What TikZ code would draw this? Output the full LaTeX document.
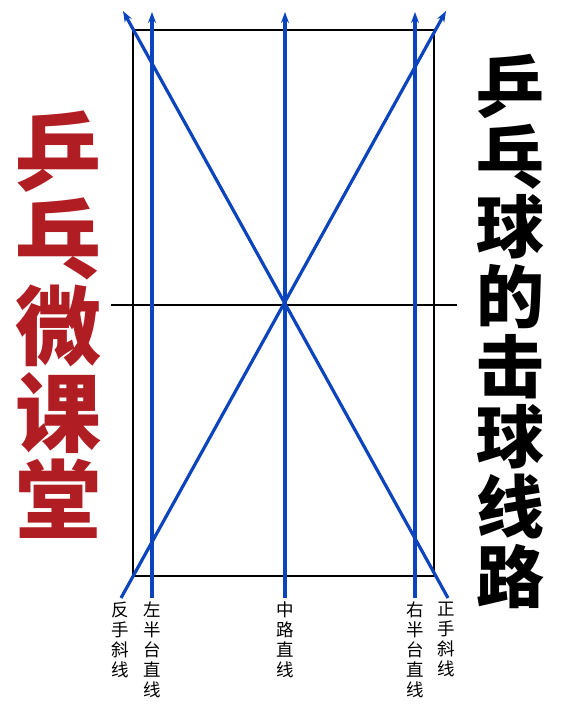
\documentclass[tikz,border=0pt]{standalone}
\usepackage{fontspec}
\newfontfamily\cjk{Noto Sans CJK SC}
\usetikzlibrary{arrows.meta}
\definecolor{lineblue}{RGB}{12,68,190}
\definecolor{titlered}{RGB}{176,30,35}
\tikzset{
  court/.style={draw=black, line width=2.2pt},
  shot/.style={draw=lineblue, line width=3.2pt, -{Stealth[length=11pt,width=8pt]}},
  lbl/.style={anchor=north, align=center, inner sep=0pt, font=\cjk\fontsize{17.5}{20}\selectfont},
  title/.style={align=center, inner sep=0pt}
}
\begin{document}
\begin{tikzpicture}[x=1pt,y=-1pt]
\useasboundingbox (0,0) rectangle (567,728);
% court
\node[court, minimum width=301pt, minimum height=546pt, inner sep=0pt] (table) at (283.5,303) {};
\coordinate (netL) at (111,305);
\coordinate (netR) at (457,305);
\draw[court] (netL) -- (netR);
% shot lines
\coordinate (bFL) at (121,598); \coordinate (tFL) at (446,11);
\coordinate (bFR) at (448,598); \coordinate (tFR) at (123,11);
\coordinate (bL) at (152,598);  \coordinate (tL) at (152,12);
\coordinate (bM) at (285,598);  \coordinate (tM) at (285,12);
\coordinate (bR) at (415,598);  \coordinate (tR) at (415,12);
\draw[shot] (bFL) -- (tFL);
\draw[shot] (bFR) -- (tFR);
\draw[shot] (bL) -- (tL);
\draw[shot] (bM) -- (tM);
\draw[shot] (bR) -- (tR);
% labels
\node[lbl] (l1) at (120,602) {反\\手\\斜\\线};
\node[lbl] (l2) at (152,602) {左\\半\\台\\直\\线};
\node[lbl] (l3) at (285,602) {中\\路\\直\\线};
\node[lbl] (l4) at (415,602) {右\\半\\台\\直\\线};
\node[lbl] (l5) at (446,602) {正\\手\\斜\\线};
% titles
\node[title, text=titlered, font=\cjk\bfseries\fontsize{86}{87}\selectfont] (tleft) at (59,325) {乒\\乓\\微\\课\\堂};
\node[title, text=black, font=\cjk\bfseries\fontsize{68}{70}\selectfont] (tright) at (510,331) {乒\\乓\\球\\的\\击\\球\\线\\路};
\end{tikzpicture}
\end{document}
